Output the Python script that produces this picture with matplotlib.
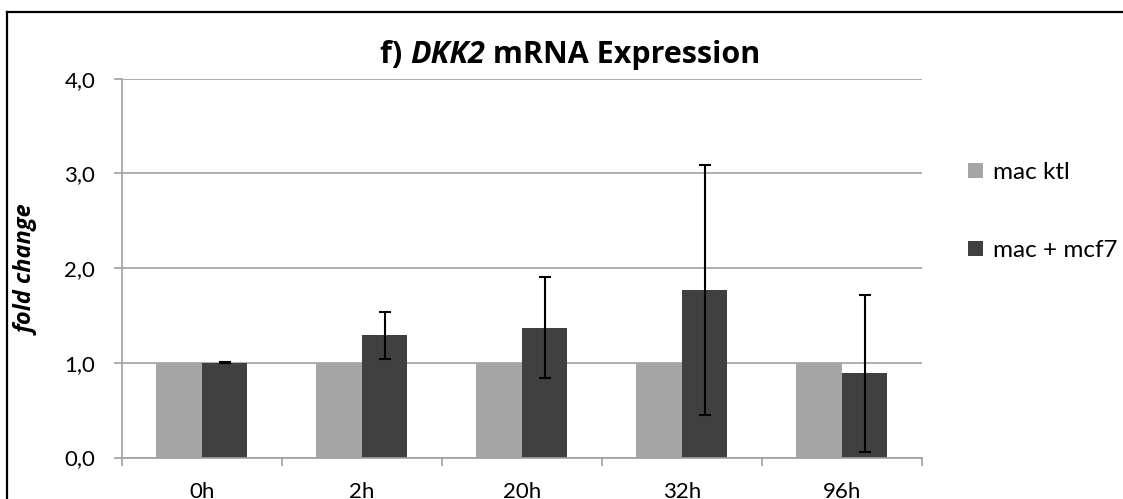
import matplotlib
matplotlib.use("Agg")
import matplotlib.pyplot as plt
from matplotlib.ticker import FuncFormatter, FixedLocator
from matplotlib.lines import Line2D
import numpy as np

plt.rcParams['font.family'] = ['Lato', 'DejaVu Sans']

categories = ["0h", "2h", "20h", "32h", "96h"]
mac_ktl = [1.0, 1.0, 1.0, 1.0, 1.0]
mac_mcf7 = [1.0, 1.29, 1.37, 1.77, 0.89]
mac_mcf7_err = [0.005, 0.245, 0.535, 1.32, 0.83]
series_labels = ["mac ktl", "mac + mcf7"]

W, H = 1123, 499
fig = plt.figure(figsize=(W / 100, H / 100), dpi=100)
ax = fig.add_axes([121.7 / W, 1 - 457.5 / H, 800 / W, 378.8 / H])

x = np.arange(len(categories))
w = 1 / 3.5
grid_col = "#a0a0a0"

ax.bar(x - w / 2, mac_ktl, w, color="#a6a6a6", label=series_labels[0], zorder=2)
ax.bar(x + w / 2, mac_mcf7, w, color="#404040", label=series_labels[1], zorder=2)
ax.errorbar(x + w / 2, mac_mcf7, yerr=mac_mcf7_err, fmt="none", ecolor="black",
            elinewidth=1.5, capsize=4, capthick=1.5, zorder=3)

ax.set_xlim(-0.5, len(categories) - 0.5)
ax.set_ylim(0, 4)
ax.set_yticks([0, 1, 2, 3, 4])
ax.yaxis.set_major_formatter(FuncFormatter(lambda v, p: f"{v:.1f}".replace(".", ",")))
ax.grid(axis="y", color=grid_col, linewidth=1.2, zorder=0)
ax.set_axisbelow(True)

# category boundaries get the tick marks, labels sit in between
ax.xaxis.set_major_locator(FixedLocator(np.arange(-0.5, len(categories), 1.0)))
ax.xaxis.set_major_formatter(FuncFormatter(lambda v, p: ""))
ax.xaxis.set_minor_locator(FixedLocator(x))
ax.set_xticklabels(categories, minor=True)
ax.tick_params(axis="x", which="major", length=6, width=1.2, color=grid_col, direction="out")
ax.tick_params(axis="x", which="minor", length=0, pad=18, labelsize=16)
ax.tick_params(axis="y", length=6, width=1.2, color=grid_col, pad=13, labelsize=16)

for s in ["top", "right"]:
    ax.spines[s].set_visible(False)
for s in ["left", "bottom"]:
    ax.spines[s].set_color(grid_col)
    ax.spines[s].set_linewidth(1.2)

ax.set_ylabel("fold change", fontsize=17, fontweight="bold", fontstyle="italic",
              family=["Open Sans", "DejaVu Sans"])
ax.yaxis.set_label_coords(40 / W, 1 - 270 / H, transform=fig.transFigure)

# title with italic gene name, built from three pieces and centred afterwards
title_font = dict(fontsize=22, fontweight="bold", va="baseline", family=["Open Sans", "DejaVu Sans"])
base_y = 1 - 63 / H
pieces = [("f) ", "normal"), ("DKK2", "italic"), (" mRNA Expression", "normal")]
fig.canvas.draw()
r = fig.canvas.get_renderer()
texts = []
x_px = 0
for s, style in pieces:
    t = fig.text(x_px / W, base_y, s, fontstyle=style, **title_font)
    x_px = t.get_window_extent(r).x1
    texts.append(t)
shift = 570 - x_px / 2
for t in texts:
    px = t.get_position()[0] * W
    t.set_x((px + shift) / W)

ax.legend(loc="upper left", bbox_to_anchor=(968 / W, 1 - 162 / H), bbox_transform=fig.transFigure,
          frameon=False, fontsize=17.5, handlelength=0.62, handleheight=0.62, handletextpad=0.4,
          labelspacing=2.35, borderpad=0, borderaxespad=0)

# chart border (runs off the crop at right and bottom)
fig.add_artist(Line2D([7 / W, 1.01], [1 - 12 / H, 1 - 12 / H], color="black", lw=1.6,
                      transform=fig.transFigure))
fig.add_artist(Line2D([7 / W, 7 / W], [1 - 12 / H, -0.01], color="black", lw=1.6,
                      transform=fig.transFigure))

fig.savefig("out.png", dpi=100)
